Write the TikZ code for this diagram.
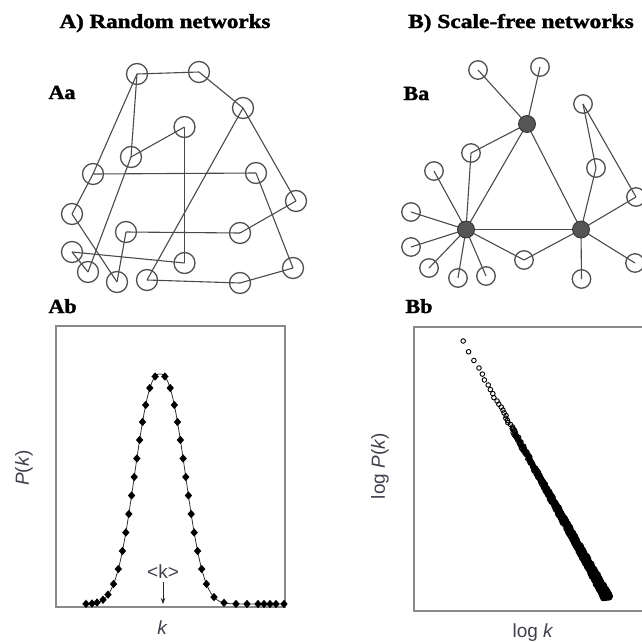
\documentclass[tikz,border=0pt]{standalone}
\usepackage{graphicx}
\usepackage{fontspec}
\setmainfont{Liberation Serif}
\newfontfamily\heavyserif[BoldFeatures={FakeBold=1.6}]{Liberation Serif}
\newfontfamily\plotfont{Liberation Sans}
\usetikzlibrary{shapes.geometric,backgrounds,arrows.meta}
\definecolor{edgecol}{HTML}{4A4A4A}
\definecolor{circcol}{HTML}{505050}
\definecolor{hubcol}{HTML}{555555}
\definecolor{boxcol}{HTML}{8A8A8A}
\definecolor{lblcol}{HTML}{40404C}
\begin{document}
\begin{tikzpicture}[x=1pt,y=-1pt,
  titlefont/.style={font=\heavyserif\fontsize{20}{24}\selectfont\bfseries},
  panel/.style={font=\heavyserif\fontsize{20}{24}\selectfont\bfseries, anchor=base west},
  rnode/.style={circle, draw=circcol, line width=1.3pt, minimum size=21pt, inner sep=0pt},
  leaf/.style={circle, draw=circcol, line width=1.3pt, minimum size=18.5pt, inner sep=0pt},
  hub/.style={circle, fill=hubcol, draw=black!80, line width=0.8pt, minimum size=17pt, inner sep=0pt},
  edge/.style={draw=edgecol, line width=1.1pt},
  boxline/.style={draw=boxcol, line width=1.3pt},
  curveline/.style={draw=black!80, line width=0.8pt},
  dmark/.style={diamond, fill=black, inner sep=0pt, minimum width=7.5pt, minimum height=8.5pt},
  smark/.style={draw=black, line width=0.9pt},
  plotlbl/.style={font=\plotfont\fontsize{19}{22}\selectfont, text=lblcol}]
\useasboundingbox (0,0) rectangle (641,643);

% titles
\node[titlefont, anchor=base] (tA) at (165,28) {\scalebox{1.15}[1]{A) Random networks}};
\node[titlefont, anchor=base] (tB) at (521,28) {\scalebox{1.17}[1]{B) Scale-free networks}};
\node[panel] (lAa) at (45,99) {\scalebox{1.1}[1]{Aa}};
\node[panel] (lBa) at (400,100) {\scalebox{1.1}[1]{Ba}};
\node[panel] (lAb) at (45,313) {\scalebox{1.1}[1]{Ab}};
\node[panel] (lBb) at (402,313) {\scalebox{1.1}[1]{Bb}};

% ---------- Aa random network ----------
\node[rnode] (a1) at (137,74) {};
\node[rnode] (a2) at (199,72) {};
\node[rnode] (a3) at (243,108) {};
\node[rnode] (a4) at (184.5,127) {};
\node[rnode] (a5) at (131,157) {};
\node[rnode] (a6) at (93,174) {};
\node[rnode] (a7) at (256,173) {};
\node[rnode] (a8) at (296,201) {};
\node[rnode] (a9) at (72,214) {};
\node[rnode] (a10) at (126,232) {};
\node[rnode] (a11) at (240,233) {};
\node[rnode] (a12) at (72,252) {};
\node[rnode] (a13) at (88,272) {};
\node[rnode] (a14) at (184.5,263) {};
\node[rnode] (a15) at (117,282) {};
\node[rnode] (a16) at (147,280) {};
\node[rnode] (a17) at (240,283) {};
\node[rnode] (a18) at (293,268) {};
\begin{scope}[on background layer]
\foreach \u/\v in {a1/a2,a2/a3,a3/a8,a1/a6,a6/a9,a1/a5,a5/a4,a4/a14,a5/a13,a6/a7,a7/a18,a8/a11,a10/a11,a10/a15,a9/a15,a12/a13,a12/a14,a3/a16,a16/a17,a17/a18}
  \draw[edge] (\u.center) -- (\v.center);
\end{scope}

% ---------- Ba scale-free network ----------
\node[hub] (h1) at (527,124) {};
\node[hub] (h2) at (466,229.5) {};
\node[hub] (h3) at (581,229.5) {};
\node[leaf] (ba) at (478,70) {};
\node[leaf] (bb) at (540,67) {};
\node[leaf] (bc) at (583,104) {};
\node[leaf] (bd) at (471,153) {};
\node[leaf] (be) at (434,171) {};
\node[leaf] (bf) at (596,168) {};
\node[leaf] (bg) at (411,212) {};
\node[leaf] (bh) at (636,197) {};
\node[leaf] (bi) at (411,247) {};
\node[leaf] (bj) at (429,268) {};
\node[leaf] (bk) at (458,278) {};
\node[leaf] (bl) at (486,276) {};
\node[leaf] (bm) at (524,260) {};
\node[leaf] (bn) at (581.5,279) {};
\node[leaf] (bo) at (635,263) {};
\begin{scope}[on background layer]
\foreach \u/\v in {h1/ba,h1/bb,h1/bd,h1/h2,h1/h3,h2/h3,h2/bd,h2/be,h2/bg,h2/bi,h2/bj,h2/bk,h2/bl,h2/bm,h3/bm,h3/bf,h3/bh,h3/bo,h3/bn,bc/bf,bc/bh}
  \draw[edge] (\u.center) -- (\v.center);
\end{scope}

% ---------- Ab plot ----------
\draw[boxline] (56,326) rectangle (285,607);
% curve: h = 230 exp(-0.5 |u|^2.4), u=(x-160)/24
\draw[curveline] plot[domain=-74:124, samples=199]
  ({160+\x}, {604-230*exp(max(-9,-0.5*pow(abs(\x/24)+0.001,2.4)))});
\foreach \h in {227.5,216,199,182,164,145.5,127,108.5,90,71.5,53,35,20}{
  \pgfmathsetmacro\dd{24*pow(2*ln(230/\h),1/2.4)}
  \node[dmark] at ({160-\dd},{604-\h}) {};
  \node[dmark] at ({160+\dd},{604-\h}) {};
}
\foreach \xx in {86,92,97,103,108,214,224,236,247,258,264,270,276,284}
  \node[dmark] at (\xx, {604-230*exp(max(-9,-0.5*pow(abs((\xx-160)/24),2.4)))}) {};
\node[plotlbl] (kavg) at (163,572) {<k>};
\coordinate (kbase) at (163,604);
\draw[draw=black!85, line width=0.8pt, -{Stealth[length=6pt,width=4.5pt]}] (kavg.south) -- (kbase);
\node[plotlbl, anchor=base] (kx) at (162,634) {\itshape k};
\node[plotlbl, rotate=90] (py) at (24,468) {\textit{P}(\textit{k})};

% ---------- Bb plot ----------
\draw[boxline] (414,327) rectangle (660,611);
\pgfmathsetseed{7}
\foreach \k in {4,...,845}{
  \pgfmathsetmacro\xb{463+26.9*ln(\k/4)}
  \pgfmathsetmacro\yy{341+1.78*(\xb-463)+rand*1.2*pow(\k/845,0.3)}
  \pgfmathsetmacro\xx{\xb+rand*4*pow(\k/845,0.3)}
  \draw[smark] (\xx,\yy) circle[radius=2.3];
}
\foreach \k in {25,...,845}{
  \pgfmathsetmacro\xb{463+26.9*ln(\k/4)}
  \pgfmathsetmacro\yy{341+1.78*(\xb-463)+rand*1.2*pow(\k/845,0.3)}
  \pgfmathsetmacro\xx{\xb+rand*3.5*pow(\k/845,0.3)}
  \draw[smark] (\xx,\yy) circle[radius=2.3];
}
\node[plotlbl, anchor=base] (lk) at (533,637) {log \textit{k}};
\node[plotlbl, rotate=90] (lpy) at (380,466) {log \textit{P}(\textit{k})};
\end{tikzpicture}
\end{document}
